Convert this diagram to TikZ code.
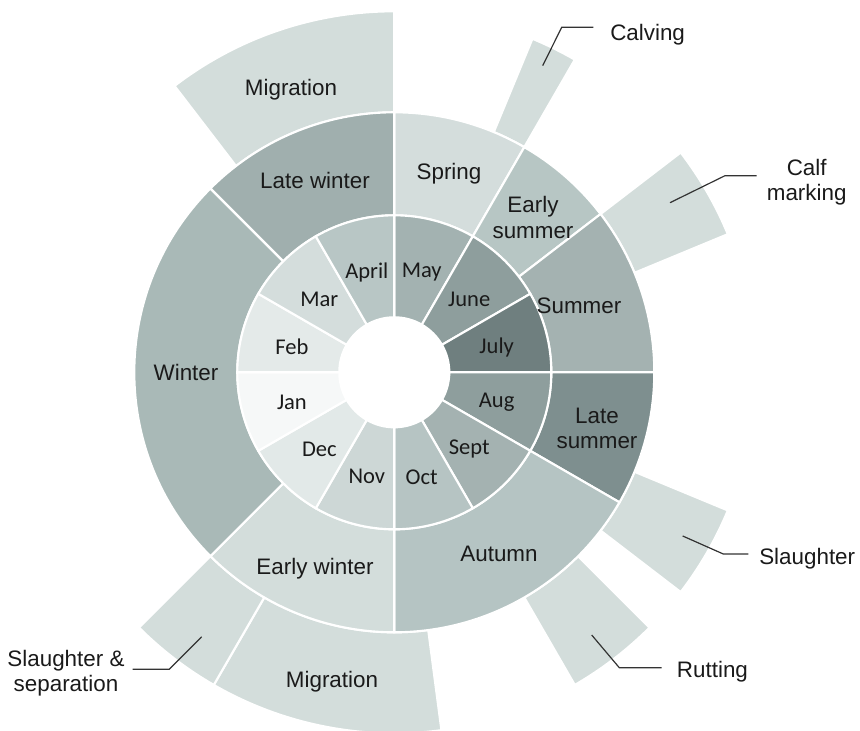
\documentclass[tikz,border=0pt]{standalone}
\usepackage{fontspec}
\setmainfont{Liberation Sans}
\newfontfamily\monthfont{Carlito}
\definecolor{outerc}{HTML}{D3DDDB}
\definecolor{springc}{HTML}{D4DDDC}
\definecolor{esumc}{HTML}{B7C6C4}
\definecolor{sumc}{HTML}{A4B2B1}
\definecolor{lsumc}{HTML}{7E8F8F}
\definecolor{autc}{HTML}{B5C4C3}
\definecolor{ewinc}{HTML}{D3DDDB}
\definecolor{winc}{HTML}{A9B9B7}
\definecolor{lwinc}{HTML}{A0AFAE}
\definecolor{janc}{HTML}{F6F8F8}
\definecolor{febc}{HTML}{E4EAE9}
\definecolor{marc}{HTML}{D4DDDC}
\definecolor{aprc}{HTML}{B8C6C5}
\definecolor{mayc}{HTML}{A3B2B1}
\definecolor{junc}{HTML}{8E9E9D}
\definecolor{julc}{HTML}{6F7F7F}
\definecolor{augc}{HTML}{8E9E9D}
\definecolor{sepc}{HTML}{A4B2B1}
\definecolor{octc}{HTML}{B6C4C3}
\definecolor{novc}{HTML}{CDD7D6}
\definecolor{decc}{HTML}{E2E9E8}
\definecolor{leaderc}{HTML}{333333}
\definecolor{txtc}{HTML}{1A1A1A}
\newcommand\ringpiece[5]{%
  \filldraw[fill=#5, draw=white, line width=1.6pt, line join=miter]
    (#3:#1) arc[start angle=#3, end angle=#4, radius=#1]
    -- (#4:#2) arc[start angle=#4, end angle=#3, radius=#2] -- cycle;}
\begin{document}
\begin{tikzpicture}[x=0.75pt,y=0.75pt,
  lbl/.style={font=\fontsize{16.8}{19}\selectfont, text=txtc, align=center, inner sep=0pt},
  mlbl/.style={font=\monthfont\fontsize{16.9}{19}\selectfont, text=txtc, inner sep=0pt, yshift=-1.6pt},
  leader/.style={draw=leaderc, line width=0.9pt}]
\useasboundingbox (-394.3,-358.7) rectangle (465.7,372.3);
% outer ring: activities
\ringpiece{260}{361}{90}{127.5}{outerc}
\ringpiece{260}{361}{60}{67.5}{outerc}
\ringpiece{260}{361}{22.5}{37.5}{outerc}
\ringpiece{260}{361}{-37.5}{-22.5}{outerc}
\ringpiece{260}{361}{-60}{-45}{outerc}
\ringpiece{260}{361}{-120}{-82.5}{outerc}
\ringpiece{260}{361}{-135}{-120}{outerc}
% season ring
\ringpiece{157}{260}{60}{90}{springc}
\ringpiece{157}{260}{37.5}{60}{esumc}
\ringpiece{157}{260}{0}{37.5}{sumc}
\ringpiece{157}{260}{-30}{0}{lsumc}
\ringpiece{157}{260}{-90}{-30}{autc}
\ringpiece{157}{260}{-135}{-90}{ewinc}
\ringpiece{157}{260}{135}{225}{winc}
\ringpiece{157}{260}{90}{135}{lwinc}
% month ring
\ringpiece{55}{157}{60}{90}{mayc}
\ringpiece{55}{157}{30}{60}{junc}
\ringpiece{55}{157}{0}{30}{julc}
\ringpiece{55}{157}{-30}{0}{augc}
\ringpiece{55}{157}{-60}{-30}{sepc}
\ringpiece{55}{157}{-90}{-60}{octc}
\ringpiece{55}{157}{-120}{-90}{novc}
\ringpiece{55}{157}{-150}{-120}{decc}
\ringpiece{55}{157}{-180}{-150}{janc}
\ringpiece{55}{157}{150}{180}{febc}
\ringpiece{55}{157}{120}{150}{marc}
\ringpiece{55}{157}{90}{120}{aprc}
\fill[white] (0,0) circle[radius=55];
% month labels
\node[mlbl] (may) at (75:106) {May};
\node[mlbl] (jun) at (45:106) {June};
\node[mlbl] (jul) at (15:106) {July};
\node[mlbl] (aug) at (-15:106) {Aug};
\node[mlbl] (sep) at (-45:106) {Sept};
\node[mlbl] (oct) at (-75:106) {Oct};
\node[mlbl] (nov) at (-105:106) {Nov};
\node[mlbl] (dec) at (-135:106) {Dec};
\node[mlbl] (jan) at (-165:106) {Jan};
\node[mlbl] (feb) at (165:106) {Feb};
\node[mlbl] (mar) at (135:106) {Mar};
\node[mlbl] (apr) at (105:106) {April};
% season labels
\node[lbl] (spring) at (54.7,198.8) {Spring};
\node[lbl] (esum) at (138.7,154.8) {Early\\summer};
\node[lbl] (sum) at (184.7,66.5) {Summer};
\node[lbl] (lsum) at (202.7,-56.2) {Late\\summer};
\node[lbl] (aut) at (104.7,-181.7) {Autumn};
\node[lbl] (ewin) at (-79.3,-196.2) {Early winter};
\node[lbl] (win) at (-208.3,0.3) {Winter};
\node[lbl] (lwin) at (-79.3,192.3) {Late winter};
% activity labels
\node[lbl] (migtop) at (-103.3,282.5) {Migration};
\node[lbl] (migbot) at (-62.3,-309.7) {Migration};
\node[lbl, anchor=west] (calv) at (215.7,337.5) {Calving};
\node[lbl] (calfm) at (412.4,190) {Calf\\marking};
\node[lbl, anchor=west] (slau) at (364.7,-186.5) {Slaughter};
\node[lbl, anchor=west] (rut) at (282.4,-299.5) {Rutting};
\node[lbl] (slsep) at (-328.3,-301.2) {Slaughter \&\\separation};
% leader lines
\coordinate (calvA) at (148.4,306.6);
\coordinate (calvB) at (167.4,345);
\coordinate (calvC) at (199,345);
\draw[leader] (calvA) -- (calvB) -- (calvC);
\coordinate (calfA) at (275.7,169.6);
\coordinate (calfB) at (330.7,196.6);
\coordinate (calfC) at (362.4,196.6);
\draw[leader] (calfA) -- (calfB) -- (calfC);
\coordinate (slauA) at (288.4,-163.7);
\coordinate (slauB) at (329,-181.7);
\coordinate (slauC) at (354,-181.7);
\draw[leader] (slauA) -- (slauB) -- (slauC);
\coordinate (rutA) at (197.4,-262.7);
\coordinate (rutB) at (225,-295.4);
\coordinate (rutC) at (267.4,-295.4);
\draw[leader] (rutA) -- (rutB) -- (rutC);
\coordinate (sepA) at (-192.6,-264.4);
\coordinate (sepB) at (-225,-297);
\coordinate (sepC) at (-261.6,-297);
\draw[leader] (sepA) -- (sepB) -- (sepC);
\end{tikzpicture}
\end{document}
